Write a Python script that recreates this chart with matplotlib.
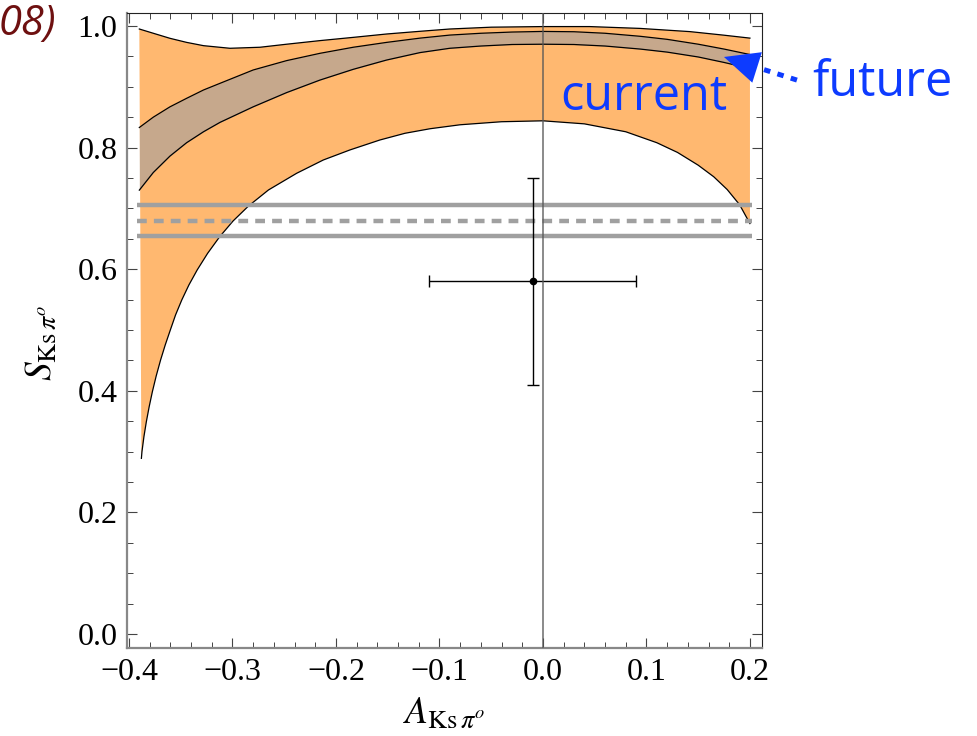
import matplotlib
matplotlib.use("Agg")
import matplotlib.pyplot as plt
import numpy as np

plt.rcParams["mathtext.fontset"] = "stix"

# current band (outer, orange): upper and lower edges
cur_up_x = [-0.39, -0.3765, -0.3604, -0.3443, -0.328, -0.3024, -0.2734, -0.2476, -0.2155, -0.183,
            -0.151, -0.119, -0.09, -0.05, 0.0, 0.045, 0.0937, 0.142, 0.174, 0.2]
cur_up_y = [0.995, 0.988, 0.9797, 0.973, 0.9676, 0.9633, 0.965, 0.970, 0.9759, 0.9813,
            0.9868, 0.9912, 0.995, 0.998, 0.999, 0.999, 0.996, 0.9907, 0.985, 0.980]
cur_lo_x = [-0.388, -0.38745, -0.38555, -0.38321, -0.38047, -0.37738, -0.37371, -0.36945,
            -0.36498, -0.36004, -0.355, -0.349, -0.3421, -0.3341, -0.324, -0.3123, -0.2994,
            -0.2845, -0.2652, -0.238, -0.2122, -0.1865, -0.1575, -0.1333, -0.109, -0.08, -0.04,
            0.0, 0.04, 0.08, 0.11, 0.13, 0.15, 0.165, 0.178, 0.19, 0.2]
cur_lo_y = [0.2889, 0.2999, 0.3246, 0.3492, 0.3739, 0.3986, 0.4243, 0.4507,
            0.4753, 0.5, 0.5247, 0.5493, 0.574, 0.5987, 0.6261, 0.6535, 0.6793,
            0.7039, 0.7303, 0.7577, 0.7796, 0.7961, 0.8125, 0.8235, 0.831, 0.8375, 0.8425,
            0.844, 0.839, 0.826, 0.808, 0.792, 0.771, 0.752, 0.731, 0.706, 0.675]

# future band (inner, brown)
fut_x = [-0.39, -0.3765, -0.3604, -0.3443, -0.328, -0.312, -0.28, -0.2477, -0.2155, -0.1833,
         -0.151, -0.1188, -0.09, -0.06, -0.03, 0.0, 0.03, 0.06, 0.094, 0.12, 0.15, 0.175, 0.2]
fut_up = [0.833, 0.850, 0.867, 0.881, 0.8947, 0.9057, 0.9276, 0.943, 0.955, 0.965,
          0.973, 0.980, 0.985, 0.988, 0.990, 0.991, 0.9905, 0.988, 0.983, 0.978, 0.970, 0.962, 0.953]
fut_lo = [0.730, 0.759, 0.786, 0.808, 0.826, 0.8415, 0.867, 0.8904, 0.911, 0.9287,
          0.944, 0.9562, 0.9633, 0.967, 0.9695, 0.970, 0.9695, 0.967, 0.962, 0.957, 0.949, 0.940, 0.930]

# horizontal reference lines
ref_x = [-0.392, 0.202]
ref_solid = [0.705, 0.655]
ref_dashed = 0.68

# measurement with errors
meas_a, meas_a_err = -0.01, 0.10
meas_s, meas_s_err = 0.58, 0.17

xticks = [-0.4, -0.3, -0.2, -0.1, 0.0, 0.1, 0.2]
xtick_labels = ["\u22120.4", "\u22120.3", "\u22120.2", "\u22120.1", "0.0", "0.1", "0.2"]
yticks = [0.0, 0.2, 0.4, 0.6, 0.8, 1.0]
ytick_labels = ["0.0", "0.2", "0.4", "0.6", "0.8", "1.0"]

orange = "#ffb870"
brown = "#c6a88c"
blue = "#0d3bff"
grey = "#a0a0a0"

fig = plt.figure(figsize=(9.77, 7.36), dpi=100)
ax = fig.add_axes([0.1300, 0.1196, 0.6499, 0.8628])

# outer band
ax.fill(cur_up_x + cur_lo_x[::-1], cur_up_y + cur_lo_y[::-1], color=orange, lw=0, zorder=1)
ax.plot(cur_up_x, cur_up_y, color="black", lw=0.9, zorder=2)
ax.plot(cur_lo_x, cur_lo_y, color="black", lw=0.9, zorder=2)

# inner band
ax.fill_between(fut_x, fut_lo, fut_up, color=brown, lw=0, zorder=3)
ax.plot(fut_x, fut_up, color="black", lw=0.9, zorder=4)
ax.plot(fut_x, fut_lo, color="black", lw=0.9, zorder=4)

for v in ref_solid:
    ax.plot(ref_x, [v, v], color=grey, lw=3.2, solid_capstyle="butt", zorder=5)
ax.plot(ref_x, [ref_dashed, ref_dashed], color=grey, lw=3.2, dashes=(2.2, 1.6), zorder=5)

ax.errorbar([meas_a], [meas_s], xerr=[meas_a_err], yerr=[meas_s_err], fmt="o", color="black",
            ms=4.5, elinewidth=1.0, capsize=4, capthick=1.0, zorder=6)

ax.axvline(0.0, color="#555555", lw=1.2, alpha=0.8, zorder=7)

ax.set_xlim(-0.4019, 0.2116)
ax.set_ylim(-0.023, 1.0214)
ax.set_xticks(xticks)
ax.set_xticklabels(xtick_labels)
ax.set_yticks(yticks)
ax.set_yticklabels(ytick_labels)
ax.set_xticks(np.arange(-0.4, 0.2001, 0.02), minor=True)
ax.set_yticks(np.arange(0.0, 1.0001, 0.05), minor=True)
ax.tick_params(which="both", direction="in", top=True, right=True, color="#444444")
ax.tick_params(which="major", length=7, width=0.8, labelsize=23, pad=7)
ax.tick_params(which="minor", length=4.5, width=0.7)
for lab in ax.get_xticklabels() + ax.get_yticklabels():
    lab.set_family("Liberation Serif")

for side in ["left", "bottom"]:
    ax.spines[side].set_color("#888888")
    ax.spines[side].set_linewidth(1.6)
for side in ["top", "right"]:
    ax.spines[side].set_color("#222222")
    ax.spines[side].set_linewidth(0.8)

ax.set_xlabel(r"$A_{\mathrm{Ks}\,\pi^{o}}$", fontsize=27, labelpad=6)
ax.set_ylabel(r"$S_{\mathrm{Ks}\,\pi^{o}}$", fontsize=27)
ax.yaxis.set_label_coords(-0.107, 0.48)

ax.text(0.0164, 0.862, "current", color=blue, fontsize=35, family="Open Sans",
        ha="left", va="baseline", zorder=8)
ax.text(0.2606, 0.884, "future", color=blue, fontsize=35, family="Open Sans",
        ha="left", va="baseline", clip_on=False, zorder=8)

# dotted arrow pointing at the future band
arrow_tail = (0.2454, 0.911)
arrow_base = (0.2071, 0.9317)
arrow_tip = (0.1749, 0.949)
ax.plot([arrow_tail[0], arrow_base[0]], [arrow_tail[1], arrow_base[1]], color=blue, lw=3.6,
        dashes=(1.3, 1.5), solid_capstyle="butt", clip_on=False, zorder=9)
ax.annotate("", xy=arrow_tip, xytext=arrow_base,
            arrowprops=dict(arrowstyle="-|>,head_length=2.5,head_width=1.15", color=blue,
                            lw=0, shrinkA=0, shrinkB=0, mutation_scale=10),
            annotation_clip=False, zorder=9)

fig.text(56 / 977, 1 - 3 / 736, "08)", color="#6e1010", fontsize=30, style="italic",
         family="Open Sans", ha="right", va="top")

fig.savefig("out.png", dpi=100)
